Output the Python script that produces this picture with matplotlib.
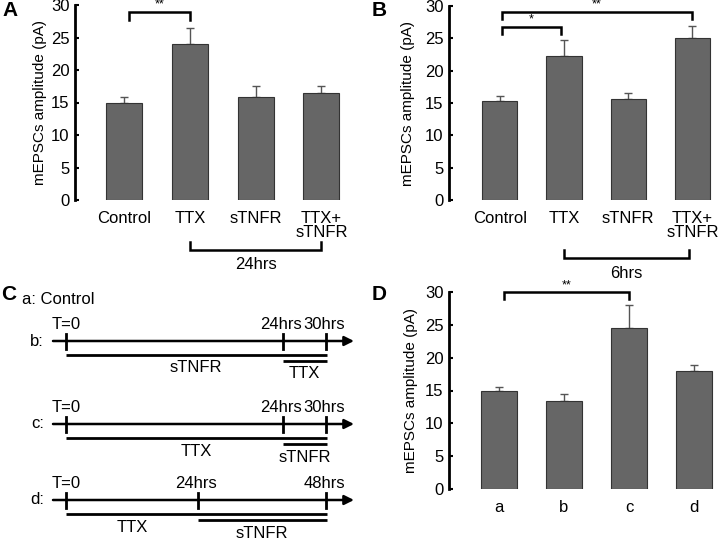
import matplotlib
matplotlib.use('Agg')
import matplotlib.pyplot as plt

plt.rcParams['font.family'] = ['Liberation Sans', 'DejaVu Sans']

# panel A / B data (mEPSC amplitude, pA)
groups_ab = ['Control', 'TTX', 'sTNFR', 'TTX+\nsTNFR']
amp_a = [15.0, 24.0, 15.9, 16.4]
sem_a = [0.8, 2.5, 1.7, 1.1]
amp_b = [15.3, 22.3, 15.6, 25.0]
sem_b = [0.8, 2.4, 1.0, 1.9]

# panel D data
groups_d = ['a', 'b', 'c', 'd']
amp_d = [14.9, 13.4, 24.5, 18.0]
sem_d = [0.6, 1.0, 3.5, 0.9]

# panel C protocol schematic: (label, line from tick, line to tick, label from tick, label to tick)
rows = ['b:', 'c:', 'd:']
row_times = [['T=0', '24hrs', '30hrs'], ['T=0', '24hrs', '30hrs'], ['T=0', '24hrs', '48hrs']]
row_treat = [[('sTNFR', 0, 2, 0, 2), ('TTX', 1, 2, 1, 2)],
             [('TTX', 0, 2, 0, 2), ('sTNFR', 1, 2, 1, 2)],
             [('TTX', 0, 2, 0, 1), ('sTNFR', 1, 2, 1, 2)]]

W, H = 720, 540
fig = plt.figure(figsize=(7.2, 5.4), dpi=100)


def px_axes(left, top, right, bottom):
    return fig.add_axes([left / W, 1 - bottom / H, (right - left) / W, (bottom - top) / H])


def bar_panel(ax, labels, vals, errs, xlim, label_x):
    x = list(range(len(vals)))
    ax.bar(x, vals, width=0.55, color='#666666', edgecolor='#333333', linewidth=0.8, zorder=2)
    ax.errorbar(x, vals, yerr=[[0] * len(errs), errs], fmt='none', ecolor='#555555',
                elinewidth=1, capsize=3, capthick=1, zorder=1)
    ax.set_xlim(*xlim)
    ax.set_ylim(0, 30)
    ax.set_yticks(range(0, 31, 5))
    ax.set_xticks(x)
    ax.set_xticklabels(labels, fontsize=12, linespacing=0.9)
    ax.tick_params(axis='x', length=0, pad=8)
    ax.tick_params(axis='y', direction='in', length=3, width=1.5, labelsize=12, pad=4)
    for s in ['top', 'right', 'bottom']:
        ax.spines[s].set_visible(False)
    ax.spines['left'].set_linewidth(2)
    ax.set_ylabel('mEPSCs amplitude (pA)', fontsize=11)
    ax.yaxis.set_label_coords(label_x, 0.5)
    ax.patch.set_alpha(0)


def sig_bracket(ax, x0, x1, y, drop, text):
    ax.plot([x0, x0, x1, x1], [y - drop, y, y, y - drop], color='black', lw=1.8,
            clip_on=False, solid_joinstyle='miter')
    ax.text((x0 + x1) / 2, y + 0.15, text, ha='center', va='bottom', fontsize=9, clip_on=False)


def time_bracket(ax, x0, x1, y, rise, text, ty):
    ax.plot([x0, x0, x1, x1], [y + rise, y, y, y + rise], color='black', lw=1.8,
            clip_on=False, solid_joinstyle='miter')
    ax.text((x0 + x1) / 2, ty, text, ha='center', va='center', fontsize=12, clip_on=False)


# A
axA = px_axes(75, 5, 345, 200)
bar_panel(axA, groups_ab, amp_a, sem_a, (-0.75, 3.36), -0.104)
sig_bracket(axA, 0.07, 1, 29.0, 1.3, '**')
time_bracket(axA, 1, 3, -7.7, 1.2, '24hrs', -9.9)
fig.text(2 / W, 1 - 11 / H, 'A', fontsize=15, fontweight='bold', va='center')

# B
axB = px_axes(449, 6, 720, 200)
bar_panel(axB, groups_ab, amp_b, sem_b, (-0.79, 3.43), -0.125)
sig_bracket(axB, 0.03, 0.96, 26.8, 1.2, '*')
sig_bracket(axB, 0.03, 3.0, 29.1, 1.1, '**')
time_bracket(axB, 1, 2.95, -9.0, 1.3, '6hrs', -11.3)
fig.text(372 / W, 1 - 11 / H, 'B', fontsize=15, fontweight='bold', va='center')

# D
axD = px_axes(449, 292, 720, 489)
bar_panel(axD, groups_d, amp_d, sem_d, (-0.77, 3.40), -0.114)
sig_bracket(axD, 0.07, 2.0, 30.0, 1.1, '**')
fig.text(372 / W, 1 - 295 / H, 'D', fontsize=15, fontweight='bold', va='center')

# C: schematic drawn in local pixel space
axC = px_axes(0, 280, 360, 540)
axC.set_xlim(0, 360)
axC.set_ylim(540, 280)
axC.axis('off')
fig.text(1 / W, 1 - 294 / H, 'C', fontsize=15, fontweight='bold', va='center')
axC.text(22, 299, 'a: Control', fontsize=12, va='center', ha='left')

row_y = [341, 424, 500]
tick_x = [[66, 283, 326], [66, 283, 326], [66, 198, 326]]
treat_off = [14, 20]
for name, y, times, xs, treats in zip(rows, row_y, row_times, tick_x, row_treat):
    axC.text(44, y, name, fontsize=12, ha='right', va='center')
    axC.annotate('', xy=(354, y), xytext=(53, y),
                 arrowprops=dict(arrowstyle='-|>', lw=1.8, color='black', mutation_scale=14,
                                 shrinkA=0, shrinkB=0))
    for i, (t, x) in enumerate(zip(times, xs)):
        axC.plot([x, x], [y - 7, y + 8], color='black', lw=2)
        if i == 0:
            axC.text(x - 14, y - 9, t, fontsize=12, ha='left', va='bottom')
        else:
            axC.text(x - 2, y - 9, t, fontsize=12, ha='center', va='bottom')
    for k, (lab, i0, i1, j0, j1) in enumerate(treats):
        ly = y + treat_off[k]
        x0, x1 = xs[i0], xs[i1] + 1
        axC.plot([x0, x1], [ly, ly], color='black', lw=2, solid_capstyle='butt')
        axC.text((xs[j0] + xs[j1]) / 2, ly + 13, lab, fontsize=12, ha='center', va='center')

fig.savefig('out.png', dpi=100)
